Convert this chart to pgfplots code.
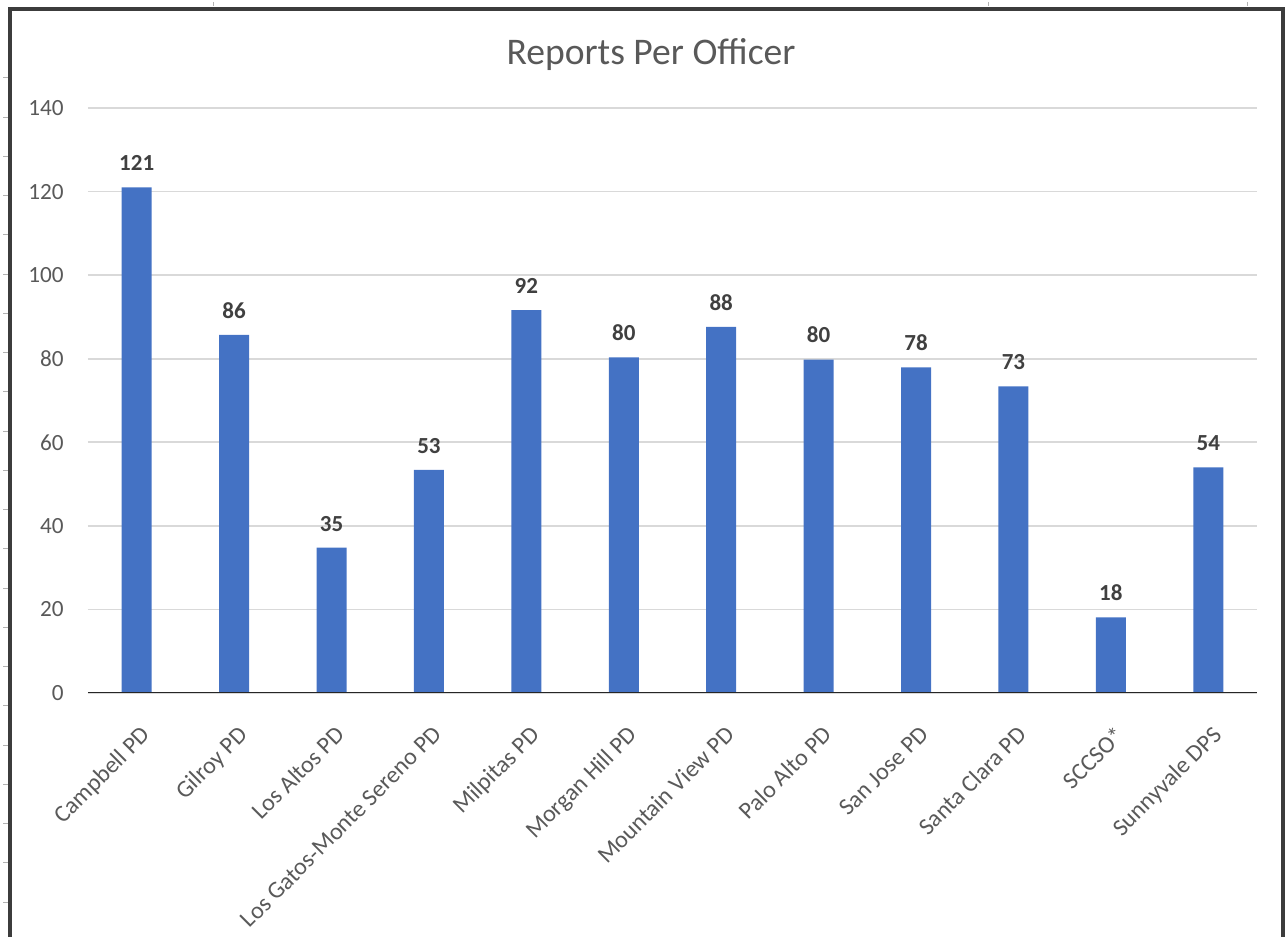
\documentclass[border=0pt]{standalone}
\usepackage{pgfplots}
\pgfplotsset{compat=1.18}
\usepackage{fontspec}
\setmainfont{Carlito}

\definecolor{barblue}{HTML}{4472C4}
\definecolor{txtgray}{HTML}{595959}
\definecolor{lblgray}{HTML}{404040}
\definecolor{gridgray}{HTML}{D9D9D9}
\definecolor{framegray}{HTML}{3C3C3C}

\begin{document}
\begin{tikzpicture}
\path[use as bounding box] (0pt,0pt) rectangle (643pt,468.5pt);

% frame and sheet marks, in pixel units of the reference
\begin{scope}[shift={(0pt,468.5pt)}, x=0.5pt, y=-0.5pt]
  \draw[framegray, line width=1.6pt] (10,940) -- (10,9) -- (1283,9) -- (1283,940);
  \foreach \k in {0,...,21}
    \draw[gray!60, line width=0.5pt] (3,{78+39.24*\k}) -- (8,{78+39.24*\k});
  \foreach \xx in {213,988,1247}
    \draw[gray!60, line width=0.5pt] (\xx,2) -- (\xx,6);
  \node[txtgray, font=\fontsize{18.8}{22}\selectfont] at (651,55) {Reports Per Officer};
\end{scope}

\begin{axis}[
  at={(44pt,122pt)}, anchor=south west,
  scale only axis,
  width=584.5pt, height=292.5pt,
  xmin=-0.5, xmax=11.5,
  ymin=0, ymax=140,
  ybar, bar width=15pt,
  axis line style={draw=none},
  major tick length=0pt,
  ytick={0,20,...,140},
  ymajorgrids=true,
  grid style={gridgray, line width=0.9pt},
  xtick={0,...,11},
  xticklabels={Campbell PD, Gilroy PD, Los Altos PD, Los Gatos-Monte Sereno PD,
    Milpitas PD, Morgan Hill PD, Mountain View PD, Palo Alto PD, San Jose PD,
    Santa Clara PD, SCCSO*, Sunnyvale DPS},
  /pgf/number format/assume math mode=true,
  yticklabel style={font=\fontsize{11.6}{14}\selectfont, text=txtgray,
    anchor=east, inner sep=0pt, xshift=-12pt},
  xticklabel style={font=\fontsize{12}{14}\selectfont, text=txtgray,
    rotate=45, anchor=north east, inner sep=0pt, yshift=-12pt, xshift=-10pt},
  nodes near coords={\pgfmathprintnumber[fixed, precision=0]{\pgfplotspointmeta}},
  every node near coord/.append style={font=\bfseries\fontsize{11.5}{14}\selectfont,
    text=lblgray, anchor=south, inner sep=0pt, yshift=8pt},
]
\addplot[fill=barblue, draw=none] coordinates {
  (0,121.0) (1,85.7) (2,34.8) (3,53.4) (4,91.6) (5,80.3)
  (6,87.6) (7,79.8) (8,77.9) (9,73.4) (10,18.1) (11,54.0)
};
\draw[black!85, line width=1pt] (axis cs:-0.5,0) -- (axis cs:11.5,0);
\end{axis}
\end{tikzpicture}
\end{document}
